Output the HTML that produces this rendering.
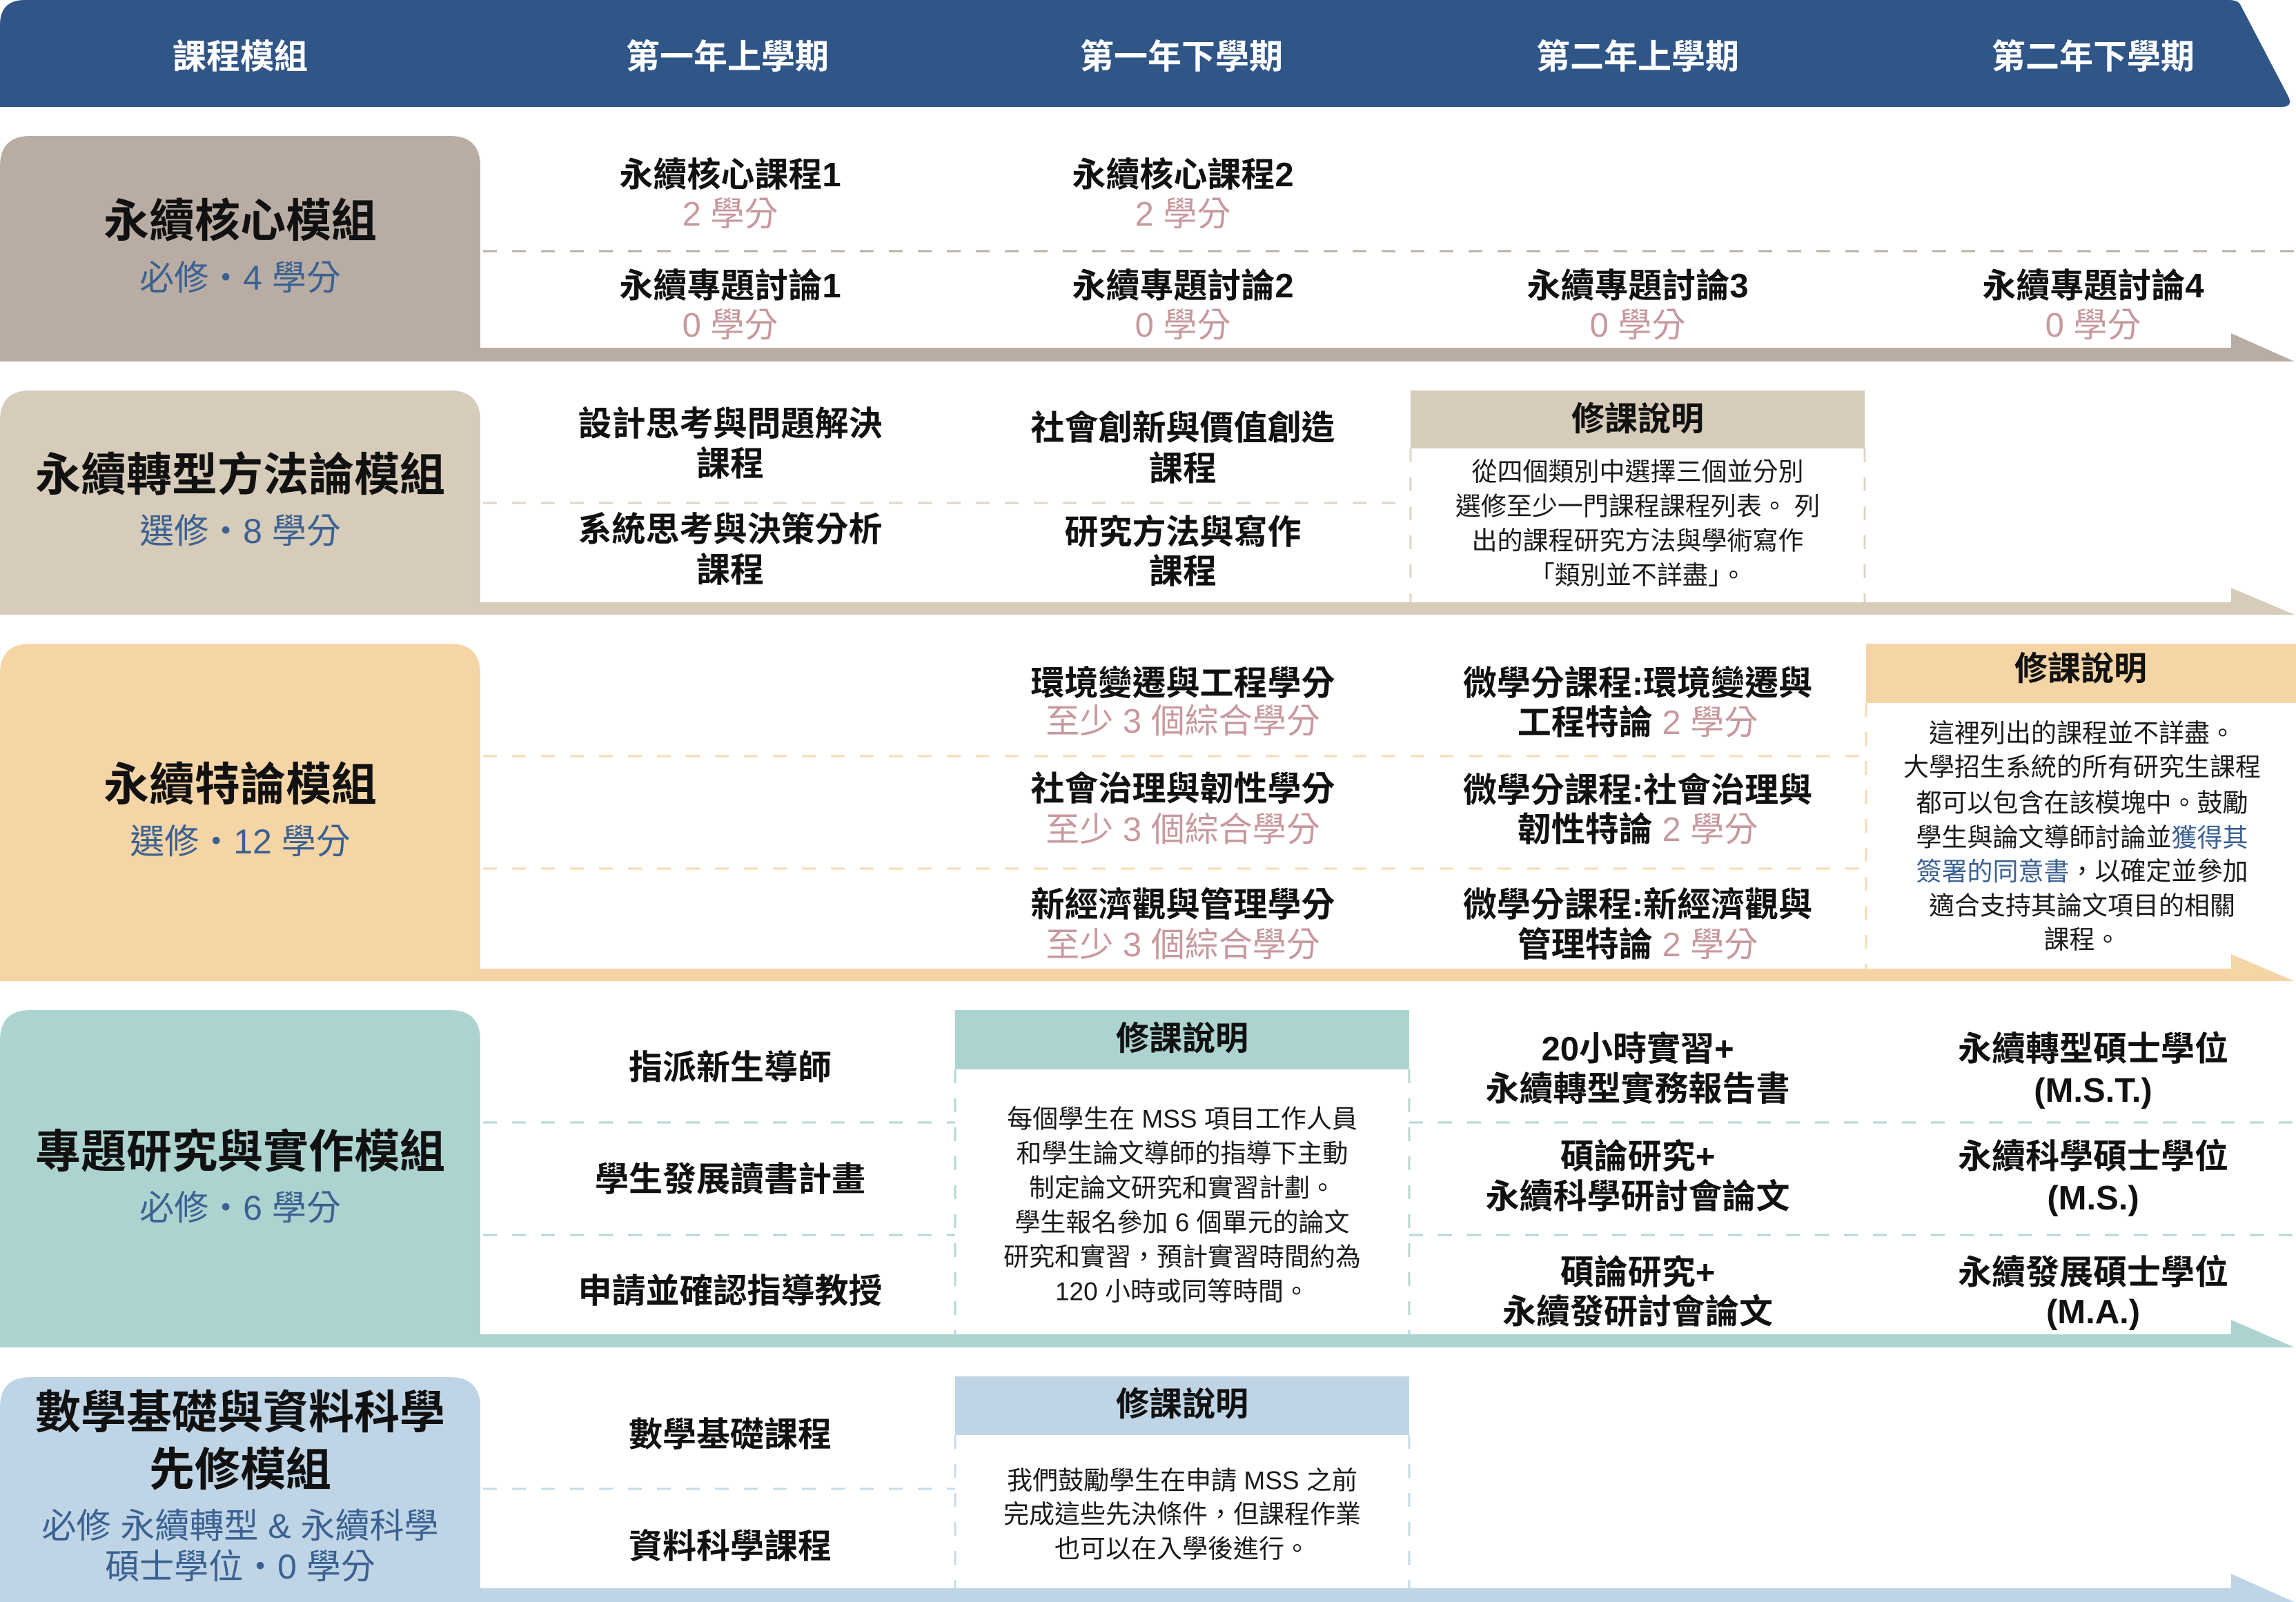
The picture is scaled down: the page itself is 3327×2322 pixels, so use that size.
<!DOCTYPE html>
<html><head><meta charset="utf-8">
<style>
html,body{margin:0;padding:0;background:#fff;}
svg{display:block;}
text{font-family:"Liberation Sans","Noto Sans CJK TC",sans-serif;}
.h{font-size:49px;font-weight:700;fill:#fff;}
.ti{font-size:66px;font-weight:700;fill:#111;}
.sb{font-size:50px;font-weight:400;fill:#3b6192;}
.c{font-size:49px;font-weight:700;fill:#111;}
.p{font-size:49px;font-weight:400;fill:#c7999d;}
.nh{font-size:48px;font-weight:700;fill:#111;}
.nb{font-size:37px;font-weight:400;fill:#1a1a1a;}
.bl{fill:#3b6192;}
.pk{fill:#c7999d;font-weight:400;}
</style></head>
<body>
<svg width="3327" height="2322" viewBox="0 0 3327 2322" xmlns="http://www.w3.org/2000/svg">
<rect width="3327" height="2322" fill="#fff"/>
<!-- header -->
<path d="M0,36 Q0,0 36,0 L3230,0 Q3242,0 3246,6 L3316,140 Q3323,155 3306,155 L0,155 Z" fill="#305587"/>
<g text-anchor="middle" dominant-baseline="central">
<text class="h" x="348" y="83">課程模組</text>
<text class="h" x="1054" y="83">第一年上學期</text>
<text class="h" x="1712" y="83">第一年下學期</text>
<text class="h" x="2373" y="83">第二年上學期</text>
<text class="h" x="3033" y="83">第二年下學期</text>
</g>

<!-- module shapes -->
<path d="M0,524 L0,241 Q0,197 44,197 L652,197 Q696,197 696,241 L696,504 L3233,504 L3233,483 L3325,524 Z" fill="#b9ada3"/>
<path d="M0,891 L0,610 Q0,566 44,566 L652,566 Q696,566 696,610 L696,873 L3233,873 L3233,852 L3325,891 Z" fill="#d7cbb9"/>
<path d="M0,1422 L0,977 Q0,933 44,933 L652,933 Q696,933 696,977 L696,1404 L3233,1404 L3233,1383 L3325,1422 Z" fill="#f5d5a6"/>
<path d="M0,1953 L0,1508 Q0,1464 44,1464 L652,1464 Q696,1464 696,1508 L696,1934 L3233,1934 L3233,1913 L3325,1953 Z" fill="#acd3cf"/>
<path d="M0,2322 L0,2040 Q0,1996 44,1996 L652,1996 Q696,1996 696,2040 L696,2302 L3233,2302 L3233,2281 L3325,2322 Z" fill="#bfd5e6"/>

<!-- note headers -->
<rect x="2044" y="566" width="658" height="84" fill="#d7cbb9"/>
<rect x="2704" y="933" width="623" height="86" fill="#f5d5a6"/>
<rect x="1384" y="1464" width="658" height="86" fill="#acd3cf"/>
<rect x="1384" y="1995" width="658" height="85" fill="#bfd5e6"/>

<!-- dashed lines -->
<g stroke-width="3" stroke-dasharray="20 22" fill="none">
<line x1="700" y1="364" x2="3327" y2="364" stroke="#bcb0a6"/>
<line x1="700" y1="729" x2="2044" y2="729" stroke="#e0d5c6"/>
<line x1="2044" y1="650" x2="2044" y2="873" stroke="#e0d5c6"/>
<line x1="2702" y1="650" x2="2702" y2="873" stroke="#e0d5c6"/>
<line x1="700" y1="1096" x2="2704" y2="1096" stroke="#f6dcb2"/>
<line x1="700" y1="1259" x2="2704" y2="1259" stroke="#f6dcb2"/>
<line x1="2704" y1="1019" x2="2704" y2="1404" stroke="#f6dcb2"/>
<line x1="700" y1="1627" x2="1384" y2="1627" stroke="#b4d8d4"/>
<line x1="700" y1="1790" x2="1384" y2="1790" stroke="#b4d8d4"/>
<line x1="2042" y1="1627" x2="3327" y2="1627" stroke="#b4d8d4"/>
<line x1="2042" y1="1790" x2="3327" y2="1790" stroke="#b4d8d4"/>
<line x1="1384" y1="1550" x2="1384" y2="1934" stroke="#b4d8d4"/>
<line x1="2042" y1="1550" x2="2042" y2="1934" stroke="#b4d8d4"/>
<line x1="700" y1="2158" x2="1384" y2="2158" stroke="#c6dbe9"/>
<line x1="1384" y1="2080" x2="1384" y2="2302" stroke="#c6dbe9"/>
<line x1="2042" y1="2080" x2="2042" y2="2302" stroke="#c6dbe9"/>
</g>

<g text-anchor="middle" dominant-baseline="central">
<!-- module titles -->
<text class="ti" x="348" y="320">永續核心模組</text>
<text class="sb" x="348" y="403">必修・4 學分</text>
<text class="ti" x="348" y="688">永續轉型方法論模組</text>
<text class="sb" x="348" y="770">選修・8 學分</text>
<text class="ti" x="348" y="1137">永續特論模組</text>
<text class="sb" x="348" y="1220">選修・12 學分</text>
<text class="ti" x="348" y="1669">專題研究與實作模組</text>
<text class="sb" x="348" y="1751">必修・6 學分</text>
<text class="ti" x="348" y="2047">數學基礎與資料科學</text>
<text class="ti" x="348" y="2130">先修模組</text>
<text class="sb" x="348" y="2212">必修 永續轉型 &amp; 永續科學</text>
<text class="sb" x="348" y="2271">碩士學位・0 學分</text>

<!-- row 1 -->
<text class="c" x="1058" y="254">永續核心課程1</text>
<text class="p" x="1058" y="311">2 學分</text>
<text class="c" x="1058" y="415">永續專題討論1</text>
<text class="p" x="1058" y="472">0 學分</text>
<text class="c" x="1714" y="254">永續核心課程2</text>
<text class="p" x="1714" y="311">2 學分</text>
<text class="c" x="1714" y="415">永續專題討論2</text>
<text class="p" x="1714" y="472">0 學分</text>
<text class="c" x="2373" y="415">永續專題討論3</text>
<text class="p" x="2373" y="472">0 學分</text>
<text class="c" x="3033" y="415">永續專題討論4</text>
<text class="p" x="3033" y="472">0 學分</text>

<!-- row 2 -->
<text class="c" x="1058" y="615">設計思考與問題解決</text>
<text class="c" x="1058" y="673">課程</text>
<text class="c" x="1058" y="768">系統思考與決策分析</text>
<text class="c" x="1058" y="827">課程</text>
<text class="c" x="1714" y="621">社會創新與價值創造</text>
<text class="c" x="1714" y="680">課程</text>
<text class="c" x="1714" y="772">研究方法與寫作</text>
<text class="c" x="1714" y="829">課程</text>
<text class="nh" x="2373" y="608">修課說明</text>
<text class="nb" x="2373" y="684">從四個類別中選擇三個並分別</text>
<text class="nb" x="2373" y="734">選修至少一門課程課程列表。 列</text>
<text class="nb" x="2373" y="784">出的課程研究方法與學術寫作</text>
<text class="nb" x="2373" y="834">「類別並不詳盡」。</text>

<!-- row 3 -->
<text class="c" x="1714" y="991">環境變遷與工程學分</text>
<text class="p" x="1714" y="1046">至少 3 個綜合學分</text>
<text class="c" x="1714" y="1144">社會治理與韌性學分</text>
<text class="p" x="1714" y="1203">至少 3 個綜合學分</text>
<text class="c" x="1714" y="1312">新經濟觀與管理學分</text>
<text class="p" x="1714" y="1370">至少 3 個綜合學分</text>
<text class="c" x="2373" y="991">微學分課程:環境變遷與</text>
<text class="c" x="2373" y="1048">工程特論 <tspan class="pk">2 學分</tspan></text>
<text class="c" x="2373" y="1146">微學分課程:社會治理與</text>
<text class="c" x="2373" y="1203">韌性特論 <tspan class="pk">2 學分</tspan></text>
<text class="c" x="2373" y="1312">微學分課程:新經濟觀與</text>
<text class="c" x="2373" y="1370">管理特論 <tspan class="pk">2 學分</tspan></text>
<text class="nh" x="3015" y="970">修課說明</text>
<text class="nb" x="3017" y="1063">這裡列出的課程並不詳盡。</text>
<text class="nb" x="3017" y="1112">大學招生系統的所有研究生課程</text>
<text class="nb" x="3017" y="1164">都可以包含在該模塊中。鼓勵</text>
<text class="nb" x="3017" y="1214">學生與論文導師討論並<tspan class="bl">獲得其</tspan></text>
<text class="nb" x="3017" y="1263"><tspan class="bl">簽署的同意書</tspan>，以確定並參加</text>
<text class="nb" x="3017" y="1313">適合支持其論文項目的相關</text>
<text class="nb" x="3017" y="1362">課程。</text>

<!-- row 4 -->
<text class="c" x="1058" y="1548">指派新生導師</text>
<text class="c" x="1058" y="1710">學生發展讀書計畫</text>
<text class="c" x="1058" y="1872">申請並確認指導教授</text>
<text class="nh" x="1713" y="1506">修課說明</text>
<text class="nb" x="1713" y="1622">每個學生在 MSS 項目工作人員</text>
<text class="nb" x="1713" y="1672">和學生論文導師的指導下主動</text>
<text class="nb" x="1713" y="1722">制定論文研究和實習計劃。</text>
<text class="nb" x="1713" y="1772">學生報名參加 6 個單元的論文</text>
<text class="nb" x="1713" y="1822">研究和實習，預計實習時間約為</text>
<text class="nb" x="1713" y="1872">120 小時或同等時間。</text>
<text class="c" x="2373" y="1521">20小時實習+</text>
<text class="c" x="2373" y="1579">永續轉型實務報告書</text>
<text class="c" x="2373" y="1677">碩論研究+</text>
<text class="c" x="2373" y="1735">永續科學研討會論文</text>
<text class="c" x="2373" y="1845">碩論研究+</text>
<text class="c" x="2373" y="1902">永續發研討會論文</text>
<text class="c" x="3033" y="1521">永續轉型碩士學位</text>
<text class="c" x="3033" y="1581">(M.S.T.)</text>
<text class="c" x="3033" y="1677">永續科學碩士學位</text>
<text class="c" x="3033" y="1737">(M.S.)</text>
<text class="c" x="3033" y="1845">永續發展碩士學位</text>
<text class="c" x="3033" y="1902">(M.A.)</text>

<!-- row 5 -->
<text class="c" x="1058" y="2080">數學基礎課程</text>
<text class="c" x="1058" y="2242">資料科學課程</text>
<text class="nh" x="1713" y="2036">修課說明</text>
<text class="nb" x="1713" y="2146">我們鼓勵學生在申請 MSS 之前</text>
<text class="nb" x="1713" y="2195">完成這些先決條件，但課程作業</text>
<text class="nb" x="1713" y="2245">也可以在入學後進行。</text>
</g>
</svg>
</body></html>
